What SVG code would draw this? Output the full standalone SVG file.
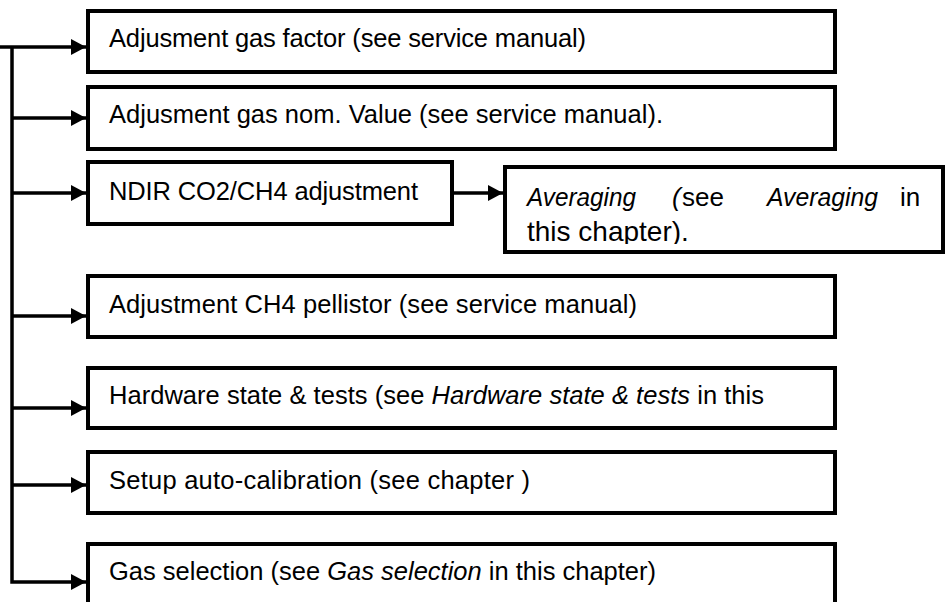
<svg xmlns="http://www.w3.org/2000/svg" width="945" height="602" viewBox="0 0 945 602">
  <style>
    .box { fill: #ffffff; stroke: #000000; stroke-width: 4; }
    .wire { fill: none; stroke: #000000; stroke-width: 3.5; stroke-linejoin: miter; }
    .t { font-family: "Liberation Sans", Arial, sans-serif; font-size: 25.5px; fill: #000000; }
    .a { font-family: "Liberation Sans", Arial, sans-serif; font-size: 26px; fill: #000000; }
    .i { font-style: italic; }
  </style>
  <defs>
    <marker id="arr" viewBox="0 0 15 16" refX="15" refY="8" markerWidth="15" markerHeight="16" markerUnits="userSpaceOnUse" orient="auto">
      <path d="M0,0 L15,8 L0,16 z" fill="#000000"/>
    </marker>
    <clipPath id="avgclip">
      <rect x="507" y="169" width="434" height="75"/>
    </clipPath>
  </defs>
  <rect width="945" height="602" fill="#ffffff"/>

  <g id="connectors">
    <path class="wire" d="M0,47 H86" marker-end="url(#arr)"/>
    <path class="wire" d="M12,47 V582 H86" marker-end="url(#arr)"/>
    <path class="wire" d="M12,118 H86" marker-end="url(#arr)"/>
    <path class="wire" d="M12,193 H86" marker-end="url(#arr)"/>
    <path class="wire" d="M12,316 H86" marker-end="url(#arr)"/>
    <path class="wire" d="M12,408 H86" marker-end="url(#arr)"/>
    <path class="wire" d="M12,485 H86" marker-end="url(#arr)"/>
    <path class="wire" d="M454,193 H503" marker-end="url(#arr)"/>
  </g>

  <g id="n1">
    <rect class="box" x="88" y="11" width="747" height="61"/>
    <text class="t" x="109" y="47" textLength="477">Adjusment gas factor (see service manual)</text>
  </g>
  <g id="n2">
    <rect class="box" x="88" y="87" width="747" height="62"/>
    <text class="t" x="109" y="123" textLength="554">Adjusment gas nom. Value (see service manual).</text>
  </g>
  <g id="n3">
    <rect class="box" x="88" y="162" width="364" height="62"/>
    <text class="t" x="109" y="200" textLength="309">NDIR CO2/CH4 adjustment</text>
  </g>
  <g id="n3b">
    <rect class="box" x="505" y="167" width="438" height="85"/>
    <g clip-path="url(#avgclip)">
      <text class="a i" x="527" y="206" textLength="109" lengthAdjust="spacingAndGlyphs">Averaging</text>
      <text class="a i" x="672" y="206">(</text>
      <text class="a" x="682" y="206">see</text>
      <text class="a i" x="767" y="206" textLength="111" lengthAdjust="spacingAndGlyphs">Averaging</text>
      <text class="a" x="900" y="206">in</text>
      <text class="a" x="527" y="241" style="font-size:28px">this chapter).</text>
    </g>
  </g>
  <g id="n4">
    <rect class="box" x="88" y="276" width="747" height="61"/>
    <text class="t" x="109" y="313" textLength="528">Adjustment CH4 pellistor (see service manual)</text>
  </g>
  <g id="n5">
    <rect class="box" x="88" y="368" width="747" height="60"/>
    <text class="t" x="109" y="404" textLength="655">Hardware state &amp; tests (see <tspan class="i">Hardware state &amp; tests</tspan> in this</text>
  </g>
  <g id="n6">
    <rect class="box" x="88" y="452" width="747" height="61"/>
    <text class="t" x="109" y="489" textLength="421">Setup auto-calibration (see chapter )</text>
  </g>
  <g id="n7">
    <rect class="box" x="88" y="544" width="747" height="80"/>
    <text class="t" x="109" y="580" textLength="547">Gas selection (see <tspan class="i">Gas selection</tspan> in this chapter)</text>
  </g>
</svg>
